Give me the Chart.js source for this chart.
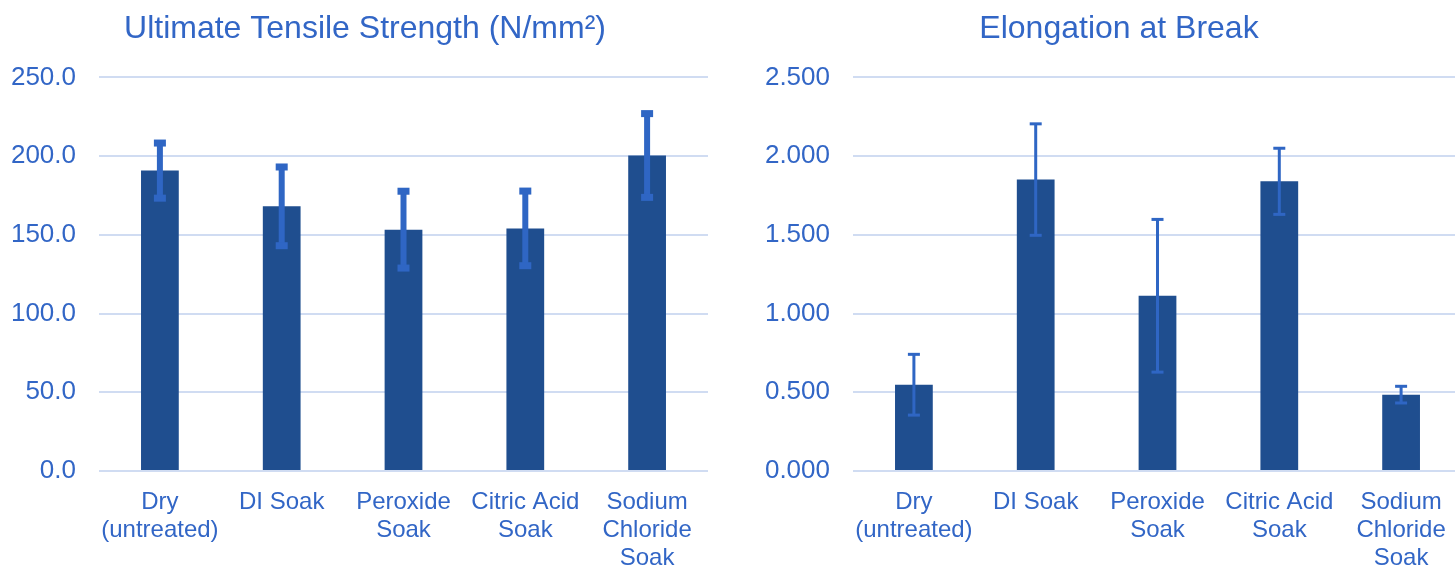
<!DOCTYPE html>
<html>
<head>
<meta charset="utf-8">
<script src="https://cdn.jsdelivr.net/npm/chart.js@4"></script>
<style>
  html, body { margin: 0; padding: 0; background: #fff; overflow: hidden; }
  body { width: 1455px; height: 565px; position: relative; }
  .box { position: absolute; top: 0; width: 730px; height: 565px; }
  #leftBox { left: 0; }
  #rightBox { left: 754px; }
</style>
</head>
<body>
<div class="box" id="leftBox"><canvas id="strengthChart" width="730" height="565"></canvas></div>
<div class="box" id="rightBox"><canvas id="elongationChart" width="730" height="565"></canvas></div>
<script>
const categories = [
    ['Dry', '(untreated)'],
    'DI Soak',
    ['Peroxide', 'Soak'],
    ['Citric Acid', 'Soak'],
    ['Sodium', 'Chloride', 'Soak']
];

const strengthValues = [190.8, 168.1, 153.3, 154.1, 200.4];
const strengthErrors = [17.5, 25.0, 24.4, 23.7, 26.6];

const elongationValues = [0.548, 1.851, 1.113, 1.840, 0.485];
const elongationErrors = [0.193, 0.354, 0.485, 0.210, 0.053];

const BAR_COLOR = '#1F4E8F';
const ERR_COLOR = '#2F66C4';
const TEXT_COLOR = '#3266C6';
const GRID_COLOR = '#D0DCF2';

// draws error bars from the dataset's own bar elements and y scale
const errorBarPlugin = {
    id: 'errorBars',
    afterLayout(chart) {
        // center the title over the whole canvas, not just the padded part
        if (chart.titleBlock) chart.titleBlock.right = chart.width;
    },
    afterDatasetsDraw(chart, args, opts) {
        const ctx = chart.ctx;
        const meta = chart.getDatasetMeta(0);
        const yScale = chart.scales.y;
        const values = chart.data.datasets[0].data;
        ctx.save();
        ctx.fillStyle = opts.color;
        ctx.strokeStyle = opts.color;
        meta.data.forEach((bar, i) => {
            const hi = yScale.getPixelForValue(values[i] + opts.errors[i]);
            const lo = yScale.getPixelForValue(values[i] - opts.errors[i]);
            ctx.lineWidth = opts.lineWidth;
            ctx.beginPath();
            ctx.moveTo(bar.x, hi);
            ctx.lineTo(bar.x, lo);
            ctx.stroke();
            ctx.fillRect(bar.x - opts.capWidth / 2, hi - opts.capHeight / 2, opts.capWidth, opts.capHeight);
            ctx.fillRect(bar.x - opts.capWidth / 2, lo - opts.capHeight / 2, opts.capWidth, opts.capHeight);
        });
        ctx.restore();
    }
};

function makeChart(canvas, title, values, errors, maxVal, step, decimals, errStyle) {
    return new Chart(canvas, {
        type: 'bar',
        data: {
            labels: categories,
            datasets: [{
                data: values,
                backgroundColor: BAR_COLOR,
                barPercentage: 0.31,
                categoryPercentage: 1.0,
            }],
        },
        options: {
            responsive: false,
            animation: false,
            layout: { padding: { left: 0, right: 22, top: 0, bottom: 0 } },
            plugins: {
                legend: { display: false },
                tooltip: { enabled: false },
                title: {
                    display: true,
                    text: title,
                    color: TEXT_COLOR,
                    font: { family: 'Liberation Sans, Arial, sans-serif', size: 32, weight: 'normal', lineHeight: 1.2 },
                    padding: { top: 10, bottom: 29 },
                },
                errorBars: Object.assign({ errors: errors, color: ERR_COLOR }, errStyle),
            },
            scales: {
                x: {
                    grid: { display: false, drawTicks: false },
                    border: { display: false },
                    ticks: {
                        color: TEXT_COLOR,
                        padding: 17,
                        maxRotation: 0,
                        autoSkip: false,
                        font: { family: 'Liberation Sans, Arial, sans-serif', size: 24, lineHeight: 1.17 },
                    },
                    afterFit(scale) { scale.height = 94; },
                },
                y: {
                    min: 0,
                    max: maxVal,
                    grid: { color: GRID_COLOR, lineWidth: 2, drawTicks: false },
                    border: { display: false },
                    ticks: {
                        stepSize: step,
                        color: TEXT_COLOR,
                        padding: 23,
                        font: { family: 'Liberation Sans, Arial, sans-serif', size: 26 },
                        callback: (v) => Number(v).toFixed(decimals),
                    },
                    afterFit(scale) { scale.width = 99; },
                },
            },
        },
        plugins: [errorBarPlugin],
    });
}

makeChart(document.getElementById('strengthChart'), 'Ultimate Tensile Strength (N/mm²)',
    strengthValues, strengthErrors, 250, 50, 1,
    { lineWidth: 6, capWidth: 12, capHeight: 7 });

makeChart(document.getElementById('elongationChart'), 'Elongation at Break',
    elongationValues, elongationErrors, 2.5, 0.5, 3,
    { lineWidth: 3, capWidth: 12, capHeight: 3 });
</script>
</body>
</html>
